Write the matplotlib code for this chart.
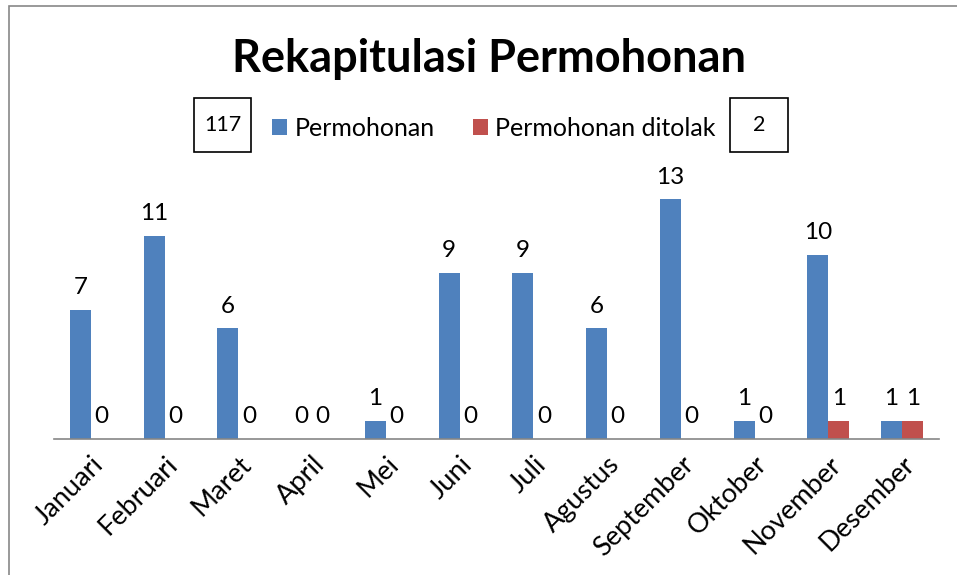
import matplotlib
matplotlib.use('Agg')
import matplotlib.pyplot as plt
import numpy as np
from matplotlib.patches import Rectangle

# ---- data ----
months = ['Januari', 'Februari', 'Maret', 'April', 'Mei', 'Juni', 'Juli',
          'Agustus', 'September', 'Oktober', 'November', 'Desember']
permohonan = [7, 11, 6, 0, 1, 9, 9, 6, 13, 1, 10, 1]
ditolak = [0, 0, 0, 0, 0, 0, 0, 0, 0, 0, 1, 1]
series_names = ['Permohonan', 'Permohonan ditolak']
total_permohonan = 117
total_ditolak = 2
title = 'Rekapitulasi Permohonan'

plt.rcParams['font.family'] = ['Lato', 'DejaVu Sans']

W, H = 957, 575
fig = plt.figure(figsize=(W / 100, H / 100), dpi=100)

def fx(px):
    return px / W

def fy(py):
    return 1 - py / H

# outer chart border
fig.add_artist(Rectangle((fx(8.5), fy(H + 20)), fx(W + 20), (H + 14.5) / H,
                         transform=fig.transFigure, fill=False,
                         ec='#878787', lw=1.2))

ax = fig.add_axes([fx(54), fy(439), fx(939 - 54), (439 - 181) / H])
x = np.arange(len(months))
w = 1 / 3.5
b1 = ax.bar(x - w / 2, permohonan, w, color='#4F81BD', label=series_names[0])
b2 = ax.bar(x + w / 2, ditolak, w, color='#C0504D', label=series_names[1])
ax.set_xlim(-0.5, len(months) - 0.5)
ax.set_ylim(0, 14)

for bars, vals in ((b1, permohonan), (b2, ditolak)):
    ax.bar_label(bars, labels=[str(v) for v in vals], padding=8.5,
                 fontsize=17.5, color='black')

ax.set_xticks(x, months, rotation=45, ha='right', rotation_mode='anchor',
              fontsize=19.5)
ax.tick_params(axis='x', length=0, pad=9)
ax.set_yticks([])
for s in ('left', 'right', 'top'):
    ax.spines[s].set_visible(False)
ax.spines['bottom'].set_color('#868686')
ax.spines['bottom'].set_linewidth(1.2)
ax.patch.set_alpha(0)

# title
fig.text(fx(488.5), fy(72), title, ha='center', va='baseline',
         fontsize=32.5, fontweight='bold')

# legend
fig.legend(handles=[b1, b2], loc='center', bbox_to_anchor=(fx(494), fy(128)),
           ncol=2, frameon=False, handlelength=0.6, handleheight=0.6,
           handletextpad=0.3, columnspacing=1.5, fontsize=18)

# total boxes
for (x0, x1), val in (((194, 251), total_permohonan), ((730, 788), total_ditolak)):
    fig.add_artist(Rectangle((fx(x0), fy(152)), fx(x1 - x0), 54 / H,
                             transform=fig.transFigure, fill=False,
                             ec='black', lw=1.2))
    fig.text(fx((x0 + x1) / 2), fy(125), str(val), ha='center', va='center',
             fontsize=15.5)

fig.savefig('out.png', dpi=100)
